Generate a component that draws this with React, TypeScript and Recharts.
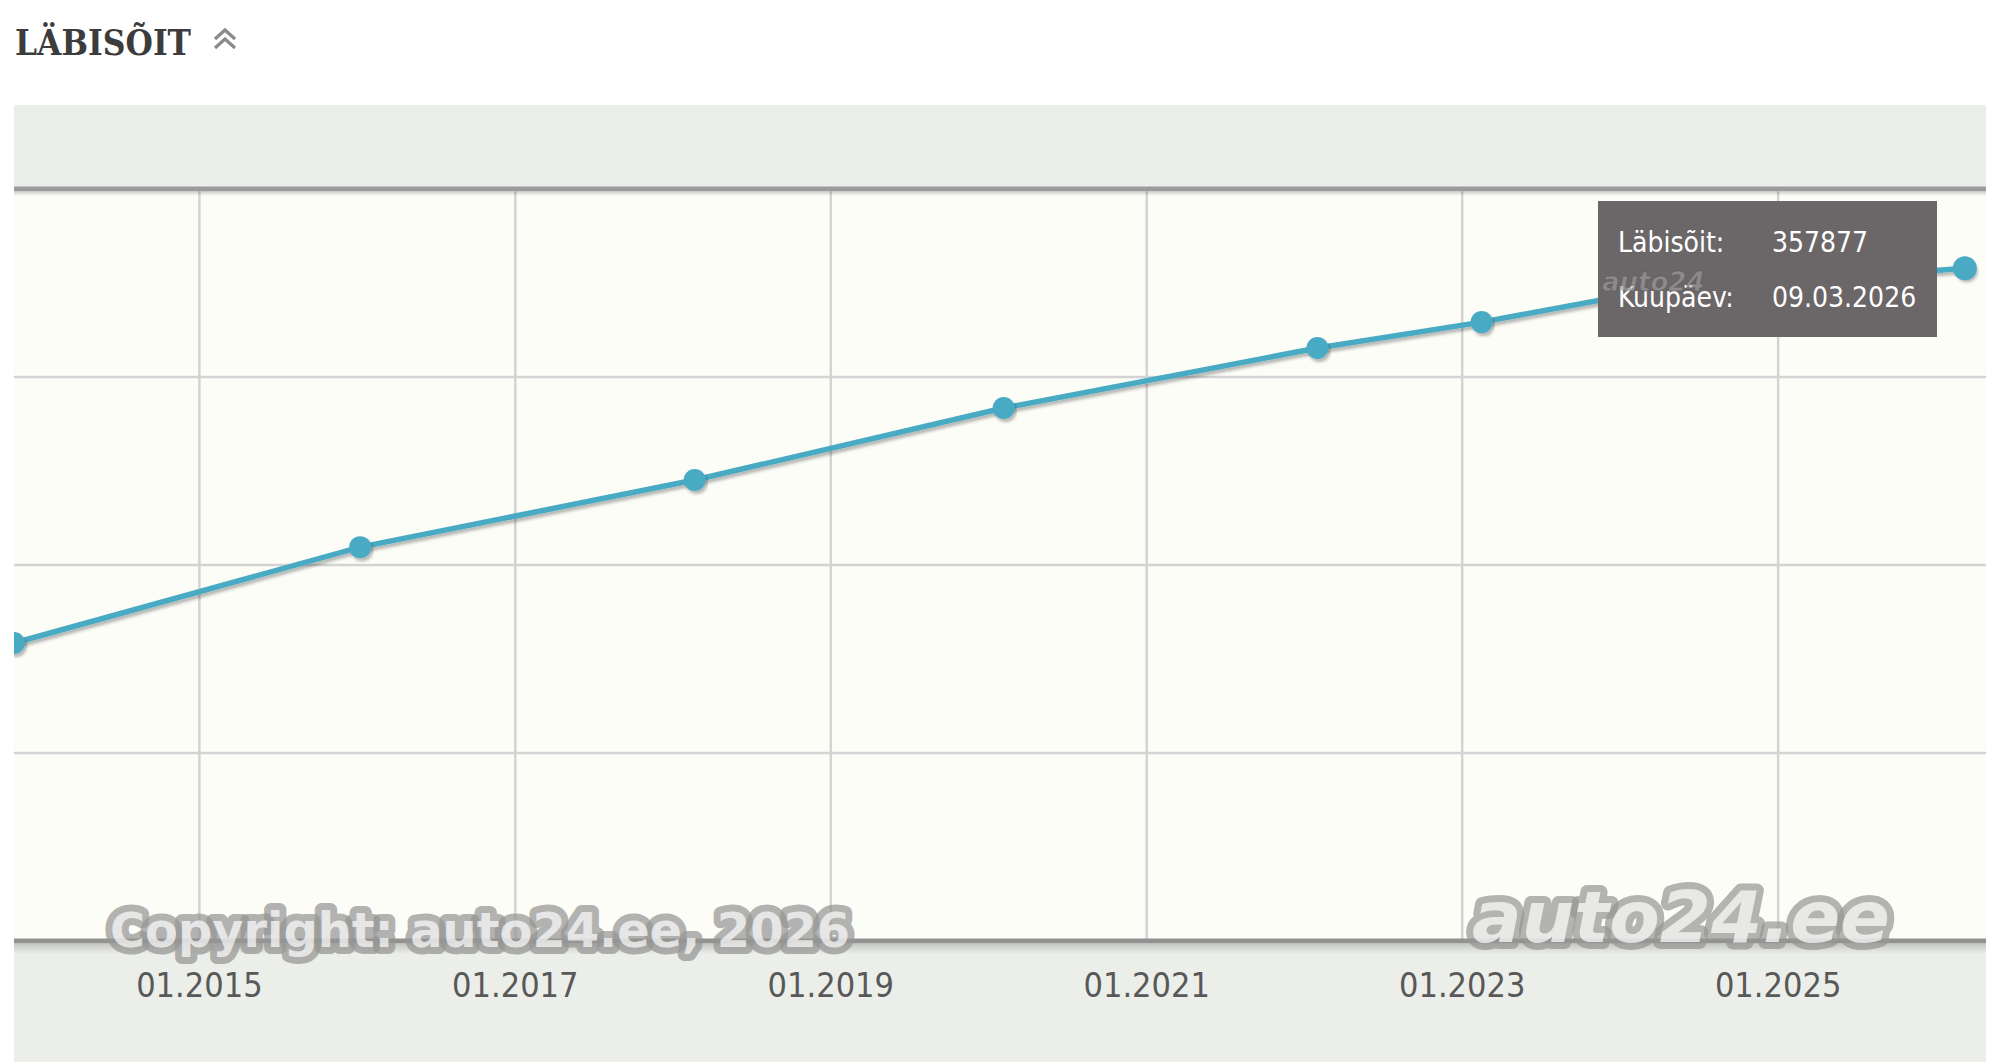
import React from "react";
import {
  LineChart,
  Line,
  XAxis,
  YAxis,
  CartesianGrid,
  ReferenceLine,
  Tooltip,
} from "recharts";

// ---- data ----
const readingDates = [
  "2013-10-29",
  "2016-01-08",
  "2018-02-20",
  "2020-02-05",
  "2022-01-31",
  "2023-02-15",
  "2024-02-14",
  "2026-03-09",
];
const mileage = [158500, 209500, 245200, 283500, 315400, 329200, 344700, 357877];
const tickYears = [2015, 2017, 2019, 2021, 2023, 2025];
const yTicks = [0, 100000, 200000, 300000, 400000];
const xDomainStart = "2013-10-29";
const xDomainEnd = "2026-04-27";

const toTs = (d: string) => Date.parse(d + "T00:00:00Z");
const data = readingDates.map((d, i) => ({ t: toTs(d), v: mileage[i], date: d }));
const tickTs = tickYears.map((y) => Date.UTC(y, 0, 1));

const LINE = "#4aaac3";
const fmtTick = (ts: number) => {
  const d = new Date(ts);
  return String(d.getUTCMonth() + 1).padStart(2, "0") + "." + d.getUTCFullYear();
};
const fmtDate = (s: string) => {
  const [y, m, d] = s.split("-");
  return `${d}.${m}.${y}`;
};

const XTick = (props: any) => {
  const { x, y, payload } = props;
  return (
    <text
      x={x}
      y={y + 56}
      textAnchor="middle"
      fontFamily="'DejaVu Sans Condensed', 'DejaVu Sans', sans-serif"
      fontSize={34}
      fill="#585858"
    >
      {fmtTick(payload.value)}
    </text>
  );
};

const Tip = (props: any) => {
  const { payload } = props;
  if (!payload || !payload.length) return null;
  const item = payload[0].payload;
  const rowStyle: React.CSSProperties = { display: "flex", height: 55, lineHeight: "55px" };
  return (
    <div
      style={{
        width: 339,
        height: 136,
        boxSizing: "border-box",
        background: "#6b6768",
        color: "#fff",
        fontFamily: "'DejaVu Sans Condensed', 'DejaVu Sans', sans-serif",
        fontSize: 28,
        paddingTop: 14,
        paddingLeft: 20,
      }}
    >
      <div style={rowStyle}>
        <span style={{ width: 154 }}>Läbisõit:</span>
        <span>{item.v}</span>
      </div>
      <div style={rowStyle}>
        <span style={{ width: 154 }}>Kuupäev:</span>
        <span>{fmtDate(item.date)}</span>
      </div>
    </div>
  );
};

export default function App() {
  return (
    <div
      style={{
        position: "absolute",
        left: 0,
        top: 0,
        width: 2000,
        height: 1062,
        background: "#ffffff",
        overflow: "hidden",
      }}
    >
      <div
        style={{
          position: "absolute",
          left: 14,
          top: 105,
          width: 1972,
          height: 957,
          background: "#ebeee9",
        }}
      />
      <div style={{ position: "absolute", left: 14, top: 105 }}>
        <LineChart
          width={1972}
          height={957}
          data={data}
          margin={{ top: 84, right: 0, bottom: 0, left: 0 }}
        >
          <defs>
            <filter id="lineShadow" x="-10%" y="-10%" width="120%" height="130%">
              <feDropShadow dx="2" dy="3" stdDeviation="1.5" floodColor="#000" floodOpacity="0.28" />
            </filter>
          </defs>
          <CartesianGrid
            fill="#fdfdf8"
            stroke="#d3d3d3"
            strokeWidth={2.5}
            horizontalValues={yTicks}
            verticalValues={tickTs}
          />
          <XAxis
            type="number"
            dataKey="t"
            domain={[toTs(xDomainStart), toTs(xDomainEnd)]}
            ticks={tickTs}
            interval={0}
            allowDataOverflow
            height={121}
            tickSize={0}
            tickMargin={0}
            tickLine={false}
            axisLine={false}
            tick={<XTick />}
          />
          <YAxis type="number" hide domain={[0, 400000]} ticks={yTicks} allowDataOverflow />
          <ReferenceLine y={400000} stroke="#9c9c9c" strokeWidth={5} />
          <ReferenceLine y={0} stroke="#929292" strokeWidth={5} />
          <Line
            type="linear"
            dataKey="v"
            stroke={LINE}
            strokeWidth={5.5}
            filter="url(#lineShadow)"
            dot={{ r: 11, fill: LINE, stroke: "none", clipDot: true }}
            activeDot={{ r: 12, fill: LINE, stroke: "none" }}
            isAnimationActive={false}
          />
          <Tooltip
            active
            defaultIndex={7}
            position={{ x: 1584, y: 96 }}
            cursor={false}
            content={<Tip />}
            isAnimationActive={false}
            wrapperStyle={{ outline: "none" }}
          />
        </LineChart>
      </div>
      <svg
        width={2000}
        height={1062}
        style={{ position: "absolute", left: 0, top: 0, pointerEvents: "none" }}
      >
        <defs>
          <linearGradient id="edgeShade" x1="0" y1="0" x2="0" y2="1">
            <stop offset="0" stopColor="#000" stopOpacity="0.16" />
            <stop offset="1" stopColor="#000" stopOpacity="0" />
          </linearGradient>
        </defs>
        <rect x={14} y={944} width={1972} height={10} fill="url(#edgeShade)" />
        <rect x={14} y={192} width={1972} height={4} fill="url(#edgeShade)" />
        <text
          x={15}
          y={55}
          fontFamily="'DejaVu Serif', serif"
          fontWeight="bold"
          fontSize={35}
          fill="#3c3c3c"
          textLength={176}
          lengthAdjust="spacingAndGlyphs"
        >
          LÄBISÕIT
        </text>
        <g fill="none" stroke="#8a8a8a" strokeWidth={3.2} strokeLinejoin="miter">
          <polyline points="215,39 225,30 235,39" />
          <polyline points="215,48 225,39 235,48" />
        </g>
        <text
          x={1602}
          y={291}
          fontFamily="'DejaVu Sans', sans-serif"
          fontWeight="bold"
          fontStyle="italic"
          fontSize={26}
          fill="rgba(170,170,170,0.55)"
          stroke="rgba(80,80,80,0.45)"
          strokeWidth={1}
        >
          auto24
        </text>
        <text
          x={110}
          y={947}
          fontFamily="'DejaVu Sans', sans-serif"
          fontWeight="bold"
          fontSize={48}
          fill="rgba(255,255,255,0.7)"
          stroke="rgba(150,150,148,0.72)"
          strokeWidth={14}
          strokeLinejoin="round"
          paintOrder="stroke"
          textLength={740}
          lengthAdjust="spacingAndGlyphs"
        >
          Copyright: auto24.ee, 2026
        </text>
        <text
          x={1472}
          y={942}
          fontFamily="'DejaVu Sans', sans-serif"
          fontWeight="bold"
          fontStyle="italic"
          fontSize={72}
          fill="rgba(255,255,255,0.7)"
          stroke="rgba(150,150,148,0.72)"
          strokeWidth={14}
          strokeLinejoin="round"
          paintOrder="stroke"
          textLength={418}
          lengthAdjust="spacingAndGlyphs"
        >
          auto24.ee
        </text>
      </svg>
    </div>
  );
}
